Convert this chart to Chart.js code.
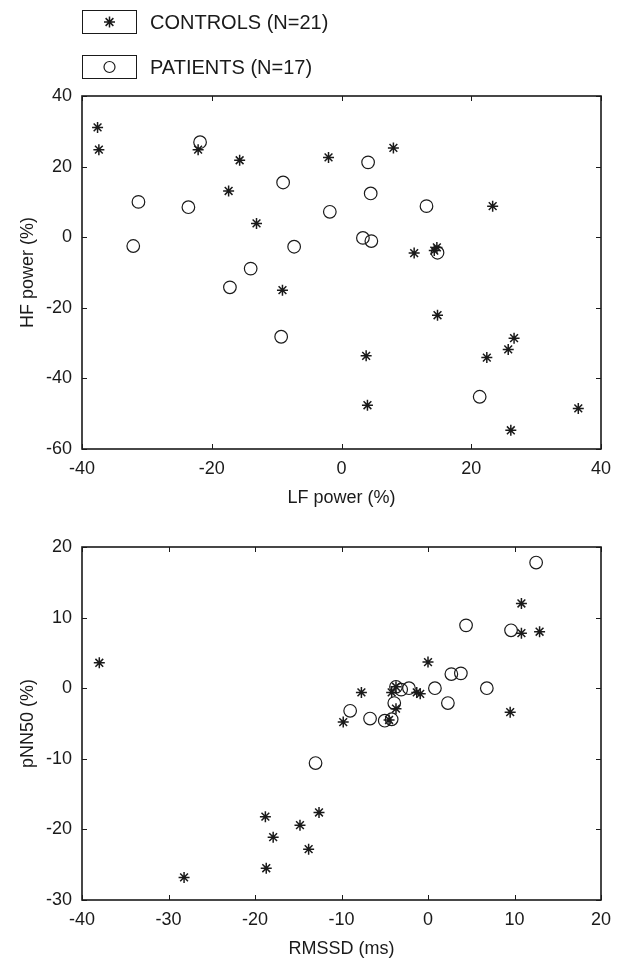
<!DOCTYPE html>
<html>
<head>
<meta charset="utf-8">
<title>LF/HF power and RMSSD/pNN50</title>
<script src="https://cdn.jsdelivr.net/npm/chart.js@4.4.1/dist/chart.umd.min.js"></script>
<style>
  html, body { margin: 0; padding: 0; background: #fff; }
  #wrap { position: relative; width: 622px; height: 960px; }
  canvas { position: absolute; left: 0; }
  #chartTop { top: 0; }
  #chartBottom { top: 520px; }
</style>
</head>
<body>
<div id="wrap">
  <canvas id="chartTop" width="622" height="520"></canvas>
  <canvas id="chartBottom" width="622" height="440"></canvas>
</div>
<script>
/* ---- data ---- */
const SERIES_LABELS = ['CONTROLS (N=21)', 'PATIENTS (N=17)'];

// top panel: LF power (%) vs HF power (%)
const lfControls = [-37.6, -37.4, -22.1, -15.7, -17.4, -13.1, -9.1, -2.0, 8.0, 23.3, 11.2,
  14.3, 14.7, 14.8, 26.6, 25.7, 3.8, 22.4, 4.0, 36.5, 26.1];
const hfControls = [31.1, 24.8, 24.8, 21.8, 13.1, 3.9, -15.0, 22.6, 25.3, 8.8, -4.5,
  -3.8, -2.9, -22.1, -28.6, -31.8, -33.6, -34.1, -47.6, -48.5, -54.7];
const lfPatients = [-21.8, -31.3, -32.1, -23.6, -9.0, -7.3, -14.0, -17.2, -9.3, -1.8, 4.1,
  4.5, 13.1, 3.3, 4.6, 14.8, 21.3];
const hfPatients = [26.9, 10.0, -2.5, 8.5, 15.5, -2.7, -8.9, -14.2, -28.2, 7.2, 21.2,
  12.4, 8.8, -0.2, -1.1, -4.4, -45.2];

// bottom panel: RMSSD (ms) vs pNN50 (%)
const rmssdControls = [-38.0, 10.8, 10.8, 12.9, 0.0, -7.7, -4.2, -3.7, -1.3, -0.9, -3.7,
  -4.5, 9.5, -9.8, -28.2, -18.8, -17.9, -18.7, -14.8, -13.8, -12.6];
const pnnControls = [3.6, 12.0, 7.8, 8.0, 3.7, -0.6, -0.6, 0.2, -0.6, -0.8, -2.9,
  -4.5, -3.4, -4.8, -26.8, -18.2, -21.1, -25.5, -19.4, -22.8, -17.6];
const rmssdPatients = [12.5, 4.4, 9.6, 2.7, 3.8, 0.8, 6.8, 2.3, -2.2, -3.1, -3.7,
  -3.9, -9.0, -6.7, -5.0, -4.2, -13.0];
const pnnPatients = [17.8, 8.9, 8.2, 2.0, 2.1, 0.0, 0.0, -2.1, 0.0, -0.2, 0.2,
  -2.1, -3.2, -4.3, -4.6, -4.4, -10.6];

// axis ranges / tick steps
const topX = [-40, 40, 20];
const topY = [-60, 40, 20];
const bottomX = [-40, 20, 10];
const bottomY = [-30, 20, 10];

/* ---- style ---- */
const INK = '#1a1a1a';
const FONT = { family: '"Liberation Sans", Arial, Helvetica, sans-serif', size: 18 };
const TICK_LEN = 5;

const pairs = (xs, ys) => xs.map((x, i) => ({ x, y: ys[i] }));

function starSet(label, xs, ys) {
  return {
    label, data: pairs(xs, ys), showLine: false,
    pointStyle: 'star', pointRadius: 5.5, pointBorderWidth: 1.5,
    pointBorderColor: INK, pointBackgroundColor: INK
  };
}
function circleSet(label, xs, ys) {
  return {
    label, data: pairs(xs, ys), showLine: false,
    pointStyle: 'circle', pointRadius: 6.3, pointBorderWidth: 1.2,
    pointBorderColor: INK, pointBackgroundColor: 'rgba(0,0,0,0)'
  };
}

function xAxis(range, title, height, padBottom) {
  return {
    type: 'linear', position: 'bottom', min: range[0], max: range[1],
    ticks: { stepSize: range[2], padding: 9, color: INK, font: FONT, maxRotation: 0 },
    grid: { display: false, drawTicks: false },
    border: { display: false },
    title: { display: true, text: title, color: INK, font: FONT, padding: { top: 4, bottom: padBottom } },
    afterFit(s) { s.height = height; }
  };
}
function yAxis(range, title) {
  return {
    type: 'linear', position: 'left', min: range[0], max: range[1],
    ticks: { stepSize: range[2], padding: 10, color: INK, font: FONT },
    grid: { display: false, drawTicks: false },
    border: { display: false },
    title: { display: true, text: title, color: INK, font: FONT, padding: { top: 17, bottom: 4 } },
    afterFit(s) { s.width = 82; }
  };
}

// box + inward tick marks on all four sides (matlab look)
const frameTicks = {
  id: 'frameTicks',
  afterDatasetsDraw(chart) {
    const { ctx, chartArea: a, scales } = chart;
    ctx.save();
    ctx.strokeStyle = INK;
    ctx.lineWidth = 1;
    ctx.beginPath();
    scales.x.ticks.forEach(t => {
      const px = Math.round(scales.x.getPixelForValue(t.value)) + 0.5;
      ctx.moveTo(px, a.bottom); ctx.lineTo(px, a.bottom - TICK_LEN);
      ctx.moveTo(px, a.top); ctx.lineTo(px, a.top + TICK_LEN);
    });
    scales.y.ticks.forEach(t => {
      const py = Math.round(scales.y.getPixelForValue(t.value)) + 0.5;
      ctx.moveTo(a.left, py); ctx.lineTo(a.left + TICK_LEN, py);
      ctx.moveTo(a.right, py); ctx.lineTo(a.right - TICK_LEN, py);
    });
    ctx.stroke();
    ctx.lineWidth = 1.6;
    ctx.strokeRect(a.left, a.top, a.right - a.left, a.bottom - a.top);
    ctx.restore();
  }
};

// legend with a framed marker box per series
const boxedLegend = {
  id: 'boxedLegend',
  afterDraw(chart) {
    const ctx = chart.ctx;
    const rows = [22, 67];
    ctx.save();
    ctx.strokeStyle = INK;
    ctx.fillStyle = INK;
    ctx.font = `20px ${FONT.family}`;
    ctx.textBaseline = 'middle';
    rows.forEach((cy, i) => {
      ctx.lineWidth = 1;
      ctx.strokeRect(82.5, cy - 11.5, 54, 23);
      const cx = 109.5;
      ctx.beginPath();
      if (i === 0) {
        ctx.lineWidth = 1.5;
        for (let k = 0; k < 4; k++) {
          const ang = k * Math.PI / 4;
          ctx.moveTo(cx - 5.5 * Math.cos(ang), cy - 5.5 * Math.sin(ang));
          ctx.lineTo(cx + 5.5 * Math.cos(ang), cy + 5.5 * Math.sin(ang));
        }
      } else {
        ctx.lineWidth = 1.2;
        ctx.arc(cx, cy, 5.5, 0, Math.PI * 2);
      }
      ctx.stroke();
      ctx.fillText(SERIES_LABELS[i], 150, cy + 1);
    });
    ctx.restore();
  }
};

const common = {
  responsive: false,
  animation: false,
  events: [],
  plugins: { legend: { display: false }, tooltip: { enabled: false } }
};

new Chart(document.getElementById('chartTop'), {
  type: 'scatter',
  data: { datasets: [
    starSet(SERIES_LABELS[0], lfControls, hfControls),
    circleSet(SERIES_LABELS[1], lfPatients, hfPatients)
  ] },
  options: {
    ...common,
    layout: { padding: { top: 96, right: 21, bottom: 7, left: 0 } },
    scales: { x: xAxis(topX, 'LF power (%)', 64, 4), y: yAxis(topY, 'HF power (%)') }
  },
  plugins: [frameTicks, boxedLegend]
});

new Chart(document.getElementById('chartBottom'), {
  type: 'scatter',
  data: { datasets: [
    starSet(SERIES_LABELS[0], rmssdControls, pnnControls),
    circleSet(SERIES_LABELS[1], rmssdPatients, pnnPatients)
  ] },
  options: {
    ...common,
    layout: { padding: { top: 27, right: 21, bottom: 0, left: 0 } },
    scales: { x: xAxis(bottomX, 'RMSSD (ms)', 60, 0), y: yAxis(bottomY, 'pNN50 (%)') }
  },
  plugins: [frameTicks]
});
</script>
</body>
</html>
